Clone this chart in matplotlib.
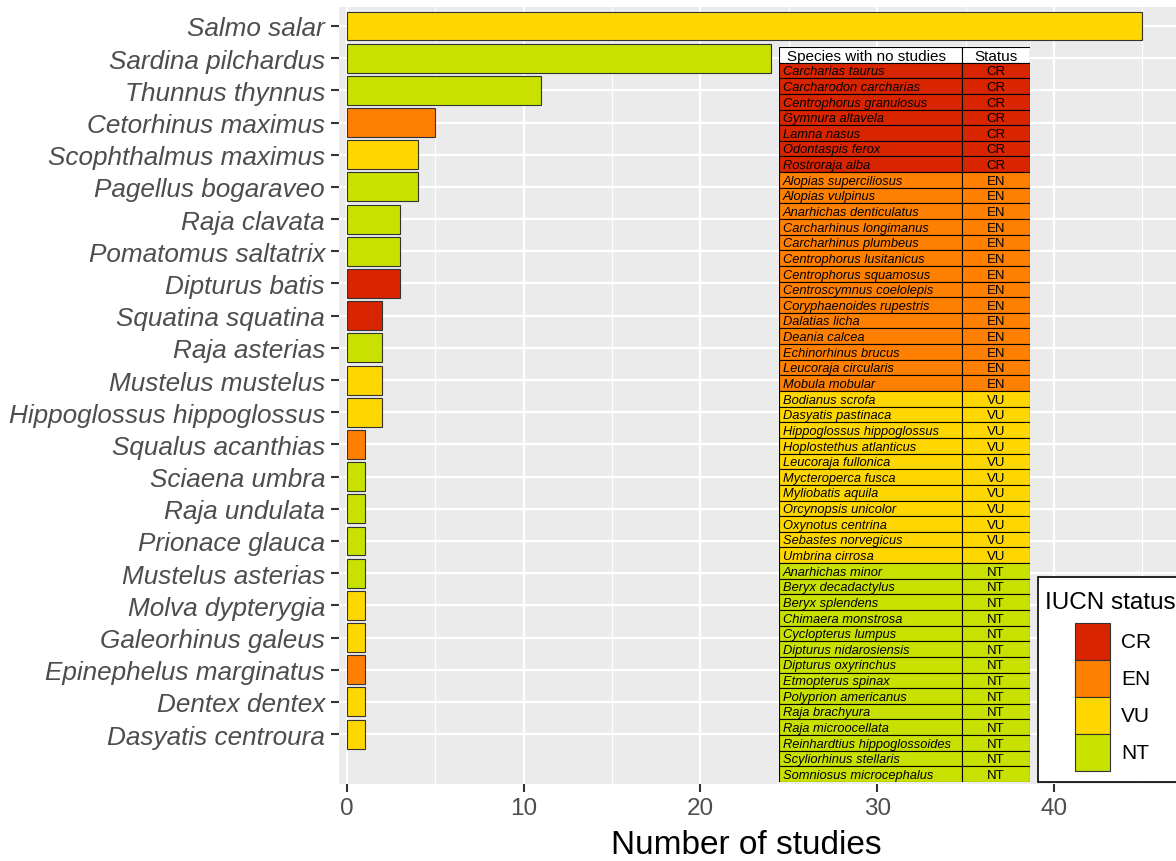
import numpy as np
import matplotlib.pyplot as plt
from matplotlib.patches import Rectangle

plt.rcParams['font.family'] = ['Liberation Sans', 'DejaVu Sans']

# studied species (top to bottom)
species = ["Salmo salar", "Sardina pilchardus", "Thunnus thynnus", "Cetorhinus maximus",
           "Scophthalmus maximus", "Pagellus bogaraveo", "Raja clavata", "Pomatomus saltatrix",
           "Dipturus batis", "Squatina squatina", "Raja asterias", "Mustelus mustelus",
           "Hippoglossus hippoglossus", "Squalus acanthias", "Sciaena umbra", "Raja undulata",
           "Prionace glauca", "Mustelus asterias", "Molva dypterygia", "Galeorhinus galeus",
           "Epinephelus marginatus", "Dentex dentex", "Dasyatis centroura"]
n_studies = [45, 24, 11, 5, 4, 4, 3, 3, 3, 2, 2, 2, 2, 1, 1, 1, 1, 1, 1, 1, 1, 1, 1]
status = ["VU", "NT", "NT", "EN", "VU", "NT", "NT", "NT", "CR", "CR", "NT", "VU", "VU",
          "EN", "NT", "NT", "NT", "NT", "VU", "VU", "EN", "VU", "VU"]

# species without studies
ns_species = ["Carcharias taurus", "Carcharodon carcharias", "Centrophorus granulosus",
              "Gymnura altavela", "Lamna nasus", "Odontaspis ferox", "Rostroraja alba",
              "Alopias superciliosus", "Alopias vulpinus", "Anarhichas denticulatus",
              "Carcharhinus longimanus", "Carcharhinus plumbeus", "Centrophorus lusitanicus",
              "Centrophorus squamosus", "Centroscymnus coelolepis", "Coryphaenoides rupestris",
              "Dalatias licha", "Deania calcea", "Echinorhinus brucus", "Leucoraja circularis",
              "Mobula mobular",
              "Bodianus scrofa", "Dasyatis pastinaca", "Hippoglossus hippoglossus",
              "Hoplostethus atlanticus", "Leucoraja fullonica", "Mycteroperca fusca",
              "Myliobatis aquila", "Orcynopsis unicolor", "Oxynotus centrina",
              "Sebastes norvegicus", "Umbrina cirrosa",
              "Anarhichas minor", "Beryx decadactylus", "Beryx splendens", "Chimaera monstrosa",
              "Cyclopterus lumpus", "Dipturus nidarosiensis", "Dipturus oxyrinchus",
              "Etmopterus spinax", "Polyprion americanus", "Raja brachyura", "Raja microocellata",
              "Reinhardtius hippoglossoides", "Scyliorhinus stellaris", "Somniosus microcephalus"]
ns_status = ["CR"] * 7 + ["EN"] * 14 + ["VU"] * 11 + ["NT"] * 14

levels = ["CR", "EN", "VU", "NT"]
colors = {"CR": "#D92400", "EN": "#FF7F00", "VU": "#FFD700", "NT": "#C8E100"}

W, H = 1176, 862
fig = plt.figure(figsize=(W / 100, H / 100), dpi=100)
ax = fig.add_axes([339 / W, 1 - 785 / H, 1 - 339 / W, (785 - 8) / H])
ax.set_facecolor("#EBEBEB")

n = len(species)
ypos = np.arange(n)[::-1]
ax.barh(ypos, n_studies, height=0.9, color=[colors[s] for s in status],
        edgecolor="#333333", linewidth=0.8, zorder=3)

ax.set_xlim(-0.45, 46.9)
ax.set_ylim(-1.55, n - 1 + 0.59)
ax.set_yticks(ypos)
ax.set_yticklabels(species, fontsize=18.8, style="italic", color="#4D4D4D")
ax.set_xticks([0, 10, 20, 30, 40])
ax.set_xticks([5, 15, 25, 35, 45], minor=True)
ax.tick_params(axis="x", which="major", labelsize=17.5, labelcolor="#4D4D4D",
               color="#333333", length=6, width=1.5)
ax.tick_params(axis="x", which="minor", length=0)
ax.tick_params(axis="y", color="#333333", length=6, width=1.5, pad=4)
ax.grid(which="major", color="white", linewidth=1.6, zorder=0)
ax.grid(which="minor", axis="x", color="white", linewidth=0.8, zorder=0)
ax.set_axisbelow(True)
for sp in ax.spines.values():
    sp.set_visible(False)
ax.set_xlabel("Number of studies", fontsize=24, labelpad=7, x=0.487)

# table of species with no studies
tab = fig.add_axes([779 / W, 1 - 783 / H, (1030 - 779) / W, (783 - 48) / H])
nrows = len(ns_species) + 1
tab.set_xlim(0, 1)
tab.set_ylim(nrows, 0)
tab.axis("off")
split = (962 - 779) / (1030 - 779)
tab.add_patch(Rectangle((0, 0), split, 1, facecolor="white", edgecolor="black", lw=0.8))
tab.add_patch(Rectangle((split, 0), 1 - split, 1, facecolor="white", edgecolor="black", lw=0.8))
tab.text(0.03, 0.55, "Species with no studies", fontsize=11, va="center", ha="left")
tab.text((split + 1) / 2, 0.55, "Status", fontsize=11, va="center", ha="center")
for i, (sp_name, st) in enumerate(zip(ns_species, ns_status)):
    r = i + 1
    c = colors[st]
    tab.add_patch(Rectangle((0, r), split, 1, facecolor=c, edgecolor="black", lw=0.8))
    tab.add_patch(Rectangle((split, r), 1 - split, 1, facecolor=c, edgecolor="black", lw=0.8))
    tab.text(0.015, r + 0.55, sp_name, fontsize=9.3, style="italic", va="center", ha="left")
    tab.text((split + 1) / 2, r + 0.55, st, fontsize=9.5, va="center", ha="center")

# legend box (drawn by hand, in pixel units)
lg = fig.add_axes([1037 / W, 1 - 784 / H, (W - 1037) / W, (784 - 577) / H])
lg.set_xlim(1037, W)
lg.set_ylim(784, 577)
lg.axis("off")
lg.add_patch(Rectangle((1038, 578), 160, 205, facecolor="white", edgecolor="black",
                       lw=1.2, clip_on=False))
lg.text(1045, 603, "IUCN status", fontsize=17.5, va="center", ha="left")
key_h = 37
for k, l in enumerate(levels):
    y0 = 624 + k * key_h
    lg.add_patch(Rectangle((1075, y0), 35, key_h, facecolor=colors[l],
                           edgecolor="#333333", lw=0.8))
    lg.text(1121, y0 + key_h / 2, l, fontsize=15, va="center", ha="left")

fig.savefig("out.png", dpi=100)
